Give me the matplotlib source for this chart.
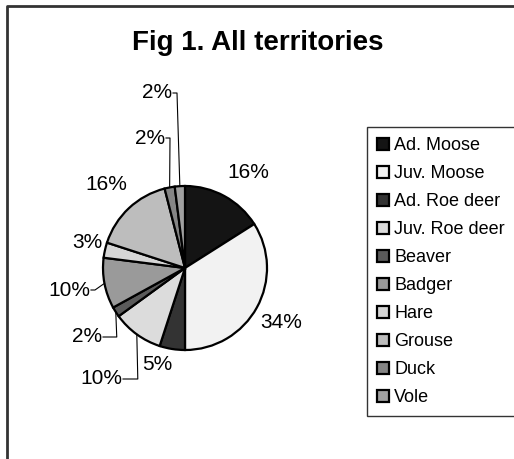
import matplotlib
matplotlib.use('Agg')
import matplotlib.pyplot as plt
import numpy as np

plt.rcParams['font.family'] = ['Liberation Sans', 'DejaVu Sans']

# data
species = ['Ad. Moose', 'Juv. Moose', 'Ad. Roe deer', 'Juv. Roe deer', 'Beaver',
           'Badger', 'Hare', 'Grouse', 'Duck', 'Vole']
shares = [16, 34, 5, 10, 2, 10, 3, 16, 2, 2]
colors = ['#141414', '#f2f2f2', '#333333', '#dcdcdc', '#5a5a5a',
          '#9a9a9a', '#d6d6d6', '#bdbdbd', '#858585', '#a0a0a0']

W, H = 514, 459
fig = plt.figure(figsize=(W / 100, H / 100), dpi=100)
ax = fig.add_axes([0, 0, 1, 1])

def Y(y):
    return H - y

cx, cy, r = 185, 268, 82
wedges, _ = ax.pie(shares, colors=colors, startangle=90, counterclock=False,
                   center=(cx, Y(cy)), radius=r, frame=True,
                   wedgeprops=dict(edgecolor='black', linewidth=1.6))
ax.set_xlim(0, W)
ax.set_ylim(0, H)
ax.set_aspect('equal')
ax.axis('off')

# label layout (pixel positions of text centres) and whether a leader is drawn
label_pos = [(248, 173), (281, 322), (157, 365), (101, 379), (87, 337),
             (69, 290), (87, 243), (106, 185), (150, 138), (157, 93)]
leader = [False, False, False, True, True, True, False, False, True, True]

cum = np.cumsum([0] + shares)
for i, v in enumerate(shares):
    lx, ly = label_pos[i]
    ax.text(lx, Y(ly), f'{v}%', fontsize=15, ha='center', va='center')
    if leader[i]:
        mid = (cum[i] + cum[i + 1]) / 2 / 100 * 2 * np.pi
        ex = cx + r * np.sin(mid)
        ey = cy - r * np.cos(mid)
        tx = lx + 22 if v >= 10 else lx + 16
        if ey < ly - 20:
            ax.plot([tx, ex + 1, ex], [Y(ly), Y(ly), Y(ey)], color='black', lw=0.8)
        else:
            ax.plot([tx, tx + 4, ex], [Y(ly), Y(ly), Y(ey)], color='black', lw=0.8)

ax.text(132, Y(43), 'Fig 1. All territories', fontsize=20, fontweight='bold',
        ha='left', va='center')

# chart frame (clipped by the picture on the right and bottom)
ax.plot([7, 7, W], [0, Y(6), Y(6)], color='#333333', lw=2.0, clip_on=False)

leg = ax.legend(wedges, species, loc='upper left',
                bbox_to_anchor=(367 / W, Y(127) / H), bbox_transform=fig.transFigure,
                fontsize=13, frameon=True, fancybox=False, edgecolor='black',
                handlelength=0.65, handleheight=0.65, handletextpad=0.3,
                labelspacing=0.61, borderpad=0.55, borderaxespad=0)
leg.get_frame().set_linewidth(1.0)

fig.savefig('out.png', dpi=100)
